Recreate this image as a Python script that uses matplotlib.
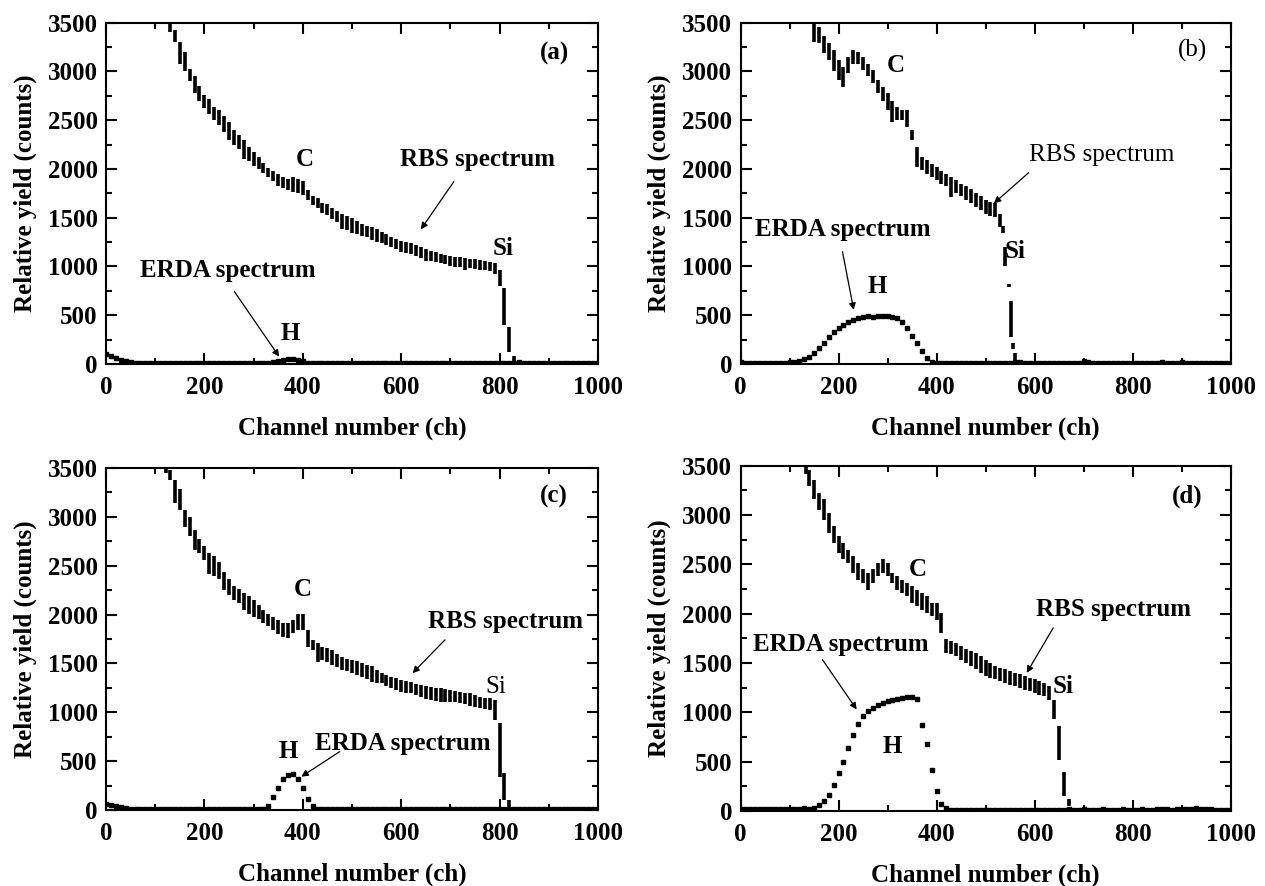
import numpy as np
import matplotlib

matplotlib.use("Agg")
import matplotlib.pyplot as plt
from matplotlib.ticker import MultipleLocator

plt.rcParams["font.family"] = ["Liberation Serif", "DejaVu Serif"]

# ---------------- data ----------------
ERDA_CH = np.arange(0, 1001, 10)

# panel (a)
A_RBS_CH = [130, 140, 150, 160, 170, 180, 190, 200, 210, 220, 230, 240, 250, 260, 270, 280, 290,
            300, 310, 320, 330, 340, 350, 360, 370, 380, 390, 400, 410, 420, 430, 440, 450, 460,
            470, 480, 490, 500, 510, 520, 530, 540, 550, 560, 570, 580, 590, 600, 610, 620, 630,
            640, 650, 660, 670, 680, 690, 700, 710, 720, 730, 740, 750, 760, 770, 780, 790, 800,
            810, 820, 830]
A_RBS_HI = [3500, 3420, 3300, 3200, 3020, 2950, 2850, 2760, 2720, 2640, 2600, 2540, 2480, 2400,
            2350, 2300, 2220, 2170, 2120, 2060, 2010, 1980, 1950, 1920, 1900, 1920, 1900, 1880,
            1780, 1720, 1700, 1650, 1640, 1600, 1570, 1540, 1520, 1500, 1470, 1440, 1420, 1400,
            1380, 1350, 1330, 1300, 1280, 1260, 1250, 1240, 1220, 1200, 1180, 1160, 1150, 1130,
            1120, 1110, 1100, 1100, 1090, 1080, 1080, 1070, 1060, 1050, 1040, 960, 780, 380, 80]
A_RBS_LO = [3400, 3300, 3080, 3000, 2900, 2780, 2700, 2620, 2560, 2500, 2450, 2380, 2300, 2250,
            2200, 2100, 2080, 2030, 2000, 1960, 1920, 1880, 1830, 1800, 1780, 1760, 1750, 1730,
            1680, 1630, 1600, 1550, 1530, 1490, 1460, 1380, 1370, 1340, 1330, 1310, 1300, 1270,
            1250, 1240, 1220, 1200, 1180, 1150, 1140, 1130, 1110, 1090, 1060, 1060, 1050, 1040,
            1030, 1000, 990, 990, 960, 980, 970, 960, 960, 950, 920, 800, 400, 120, 20]
A_ERDA = [100, 80, 60, 45, 30, 20, 15, 12, 10, 10,
          8, 8, 6, 8, 6, 6, 8, 6, 5, 6,
          5, 6, 5, 6, 5, 6, 5, 6, 8, 6,
          8, 8, 10, 15, 20, 30, 45, 55, 50, 45,
          30, 15, 10, 8, 6, 5, 6, 5, 6, 5,
          5, 6, 5, 6, 5, 6, 5, 6, 5, 6,
          5, 6, 5, 6, 5, 6, 5, 6, 5, 6,
          5, 6, 5, 6, 5, 6, 5, 6, 5, 6,
          8, 10, 8, 6, 20, 12, 8, 6, 5, 6,
          8, 6, 5, 10, 6, 5, 8, 6, 5, 6, 5]

# panel (b)
B_RBS_CH = [150, 160, 170, 180, 190, 200, 210, 220, 230, 240, 250, 260, 270, 280, 290, 300, 310,
            320, 330, 340, 350, 360, 370, 380, 390, 400, 410, 420, 430, 440, 450, 460, 470, 480,
            490, 500, 510, 520, 530, 535, 540, 547, 551, 556, 560]
B_RBS_HI = [3500, 3460, 3360, 3290, 3220, 3120, 3050, 3150, 3220, 3200, 3150, 3080, 3010, 2910,
            2840, 2775, 2700, 2640, 2600, 2600, 2400, 2230, 2120, 2090, 2050, 2020, 1980, 1950,
            1920, 1890, 1850, 1820, 1790, 1750, 1720, 1680, 1660, 1650, 1540, 1420, 1200, 820,
            650, 210, 110]
B_RBS_LO = [3300, 3290, 3190, 3120, 3000, 2910, 2840, 2980, 3080, 3080, 3010, 2950, 2880, 2775,
            2700, 2600, 2480, 2500, 2500, 2430, 2300, 2020, 1990, 1950, 1920, 1890, 1850, 1820,
            1710, 1750, 1720, 1680, 1650, 1610, 1580, 1540, 1520, 1510, 1400, 1340, 1000, 790,
            280, 150, 40]
B_ERDA = [20, 15, 15, 12, 15, 12, 10, 12, 15, 15,
          20, 25, 35, 50, 75, 110, 160, 220, 280, 330,
          370, 400, 430, 450, 470, 480, 490, 485, 490, 495,
          490, 485, 470, 430, 370, 290, 210, 130, 60, 25,
          12, 10, 8, 10, 8, 6, 8, 6, 8, 6,
          8, 6, 8, 10, 8, 6, 25, 20, 15, 12,
          10, 12, 15, 10, 8, 10, 12, 10, 8, 10,
          30, 20, 12, 10, 8, 10, 8, 12, 10, 8,
          10, 8, 12, 10, 8, 15, 25, 15, 10, 8,
          20, 10, 8, 10, 8, 6, 8, 10, 8, 6, 8]

# panel (c)
C_RBS_CH = [122, 130, 140, 150, 160, 170, 180, 190, 200, 210, 220, 230, 240, 250, 260, 270, 280,
            290, 300, 310, 320, 330, 340, 350, 360, 370, 380, 390, 400, 410, 420, 430, 440, 450,
            460, 470, 480, 490, 500, 510, 520, 530, 540, 550, 560, 570, 580, 590, 600, 610, 620,
            630, 640, 650, 660, 670, 680, 690, 700, 710, 720, 730, 740, 750, 760, 770, 780, 790,
            800, 810, 820]
C_RBS_HI = [3500, 3480, 3380, 3280, 3070, 3000, 2870, 2770, 2700, 2630, 2600, 2540, 2440, 2360,
            2290, 2260, 2220, 2190, 2150, 2100, 2050, 2010, 1980, 1940, 1910, 1910, 1940, 2010,
            2010, 1840, 1740, 1710, 1670, 1660, 1640, 1600, 1570, 1550, 1535, 1520, 1500, 1480,
            1470, 1430, 1400, 1380, 1365, 1350, 1330, 1320, 1310, 1290, 1280, 1270, 1260, 1250,
            1245, 1240, 1230, 1220, 1210, 1200, 1195, 1180, 1160, 1150, 1145, 1125, 890, 375, 100]
C_RBS_LO = [3450, 3380, 3140, 3070, 2900, 2800, 2660, 2630, 2560, 2420, 2390, 2360, 2250, 2200,
            2150, 2120, 2050, 2010, 1980, 1950, 1910, 1880, 1840, 1800, 1775, 1760, 1810, 1840,
            1840, 1670, 1640, 1510, 1535, 1510, 1485, 1460, 1435, 1420, 1400, 1380, 1365, 1340,
            1310, 1300, 1300, 1270, 1245, 1230, 1210, 1200, 1195, 1180, 1160, 1140, 1125, 1120,
            1110, 1110, 1110, 1100, 1090, 1080, 1060, 1050, 1040, 1030, 1025, 920, 340, 100, 30]
C_ERDA = [60, 50, 40, 30, 20, 15, 12, 10, 10, 8,
          8, 6, 8, 6, 5, 6, 5, 6, 5, 6,
          5, 6, 5, 6, 5, 6, 5, 6, 5, 6,
          8, 10, 15, 40, 130, 230, 320, 360, 370, 320,
          220, 110, 45, 15, 10, 8, 6, 5, 6, 5,
          6, 5, 6, 5, 6, 5, 6, 5, 6, 5,
          6, 5, 6, 5, 6, 5, 6, 5, 6, 5,
          6, 5, 6, 5, 6, 5, 6, 5, 6, 5,
          8, 6, 15, 10, 8, 6, 5, 6, 5, 6,
          5, 6, 8, 6, 5, 10, 8, 6, 5, 6, 5]

# panel (d)
D_RBS_CH = [134, 140, 150, 160, 170, 180, 190, 200, 210, 220, 230, 240, 250, 260, 270, 280, 290,
            300, 310, 320, 330, 340, 350, 360, 370, 380, 390, 400, 410, 420, 430, 440, 450, 460,
            470, 480, 490, 500, 510, 520, 530, 540, 550, 560, 570, 580, 590, 600, 610, 620, 630,
            640, 650, 660, 670]
D_RBS_HI = [3500, 3460, 3360, 3225, 3160, 3020, 2885, 2790, 2720, 2650, 2585, 2515, 2450, 2415,
            2450, 2515, 2550, 2515, 2415, 2380, 2345, 2310, 2280, 2245, 2210, 2175, 2110, 2110,
            2005, 1740, 1720, 1700, 1670, 1640, 1620, 1600, 1570, 1535, 1500, 1470, 1450, 1435,
            1420, 1400, 1385, 1370, 1350, 1335, 1320, 1300, 1265, 1130, 860, 390, 120]
D_RBS_LO = [3420, 3290, 3160, 3055, 2955, 2820, 2720, 2620, 2550, 2515, 2415, 2345, 2310, 2245,
            2310, 2380, 2415, 2380, 2310, 2245, 2210, 2175, 2110, 2075, 2040, 2005, 1975, 1940,
            1800, 1600, 1590, 1570, 1530, 1500, 1470, 1435, 1400, 1370, 1350, 1335, 1320, 1300,
            1280, 1265, 1250, 1230, 1215, 1200, 1180, 1165, 1130, 930, 520, 150, 50]
D_ERDA = [20, 18, 20, 15, 18, 20, 15, 18, 20, 15,
          18, 20, 18, 25, 20, 35, 60, 100, 160, 260,
          380, 500, 640, 770, 880, 960, 1010, 1040, 1070, 1090,
          1110, 1120, 1140, 1150, 1160, 1160, 1140, 870, 680, 420,
          200, 70, 25, 12, 10, 8, 10, 8, 6, 8,
          6, 8, 6, 8, 6, 8, 6, 8, 6, 8,
          8, 10, 12, 10, 8, 10, 12, 15, 12, 10,
          15, 12, 10, 12, 15, 12, 10, 12, 15, 12,
          10, 12, 15, 12, 10, 15, 20, 15, 12, 15,
          20, 15, 20, 25, 20, 15, 20, 12, 10, 8, 6]

PANELS = [
    ("a", A_RBS_CH, A_RBS_HI, A_RBS_LO, A_ERDA),
    ("b", B_RBS_CH, B_RBS_HI, B_RBS_LO, B_ERDA),
    ("c", C_RBS_CH, C_RBS_HI, C_RBS_LO, C_ERDA),
    ("d", D_RBS_CH, D_RBS_HI, D_RBS_LO, D_ERDA),
]

# annotation placement (text, x, y, weight), arrows (x0, y0, x1, y1)
LABELS = {
    "a": [("(a)", 911, 3185, "bold"), ("C", 404, 2100, "bold"), ("RBS spectrum", 755, 2100, "bold"),
          ("Si", 808, 1186, "bold"), ("ERDA spectrum", 247, 957, "bold"), ("H", 375, 314, "bold")],
    "b": [("(b)", 923, 3219, "normal"), ("C", 316, 3066, "bold"), ("RBS spectrum", 737, 2143, "normal"),
          ("Si", 560, 1152, "bold"), ("ERDA spectrum", 208, 1374, "bold"), ("H", 279, 793, "bold")],
    "c": [("(c)", 911, 3209, "bold"), ("C", 400, 2253, "bold"), ("RBS spectrum", 812, 1929, "bold"),
          ("Si", 792, 1263, "normal"), ("ERDA spectrum", 603, 683, "bold"), ("H", 370, 597, "bold")],
    "d": [("(d)", 911, 3190, "bold"), ("C", 361, 2447, "bold"), ("RBS spectrum", 762, 2042, "bold"),
          ("Si", 659, 1265, "bold"), ("ERDA spectrum", 204, 1687, "bold"), ("H", 310, 658, "bold")],
}
ARROWS = {
    "a": [(707, 1870, 640, 1380), (261, 742, 352, 75)],
    "b": [(588, 1962, 517, 1647), (208, 1152, 231, 554)],
    "c": [(689, 1741, 623, 1400), (475, 597, 397, 341)],
    "d": [(638, 1856, 584, 1400), (167, 1535, 237, 1029)],
}

AX_POS = {
    "a": [0.0838, 0.5892, 0.3889, 0.3852],
    "b": [0.5854, 0.5892, 0.3874, 0.3852],
    "c": [0.0838, 0.0858, 0.3889, 0.3860],
    "d": [0.5854, 0.0847, 0.3874, 0.3896],
}

FS = 18


def draw_panel(ax, key, ch, hi, lo, erda):
    # each channel bin shows a vertical cluster of counts between lo and hi
    ax.vlines(ch, lo, hi, color="black", lw=2.6, zorder=3)
    ax.plot(ERDA_CH, erda, "s", color="black", ms=3.0, zorder=3)

    ax.set_xlim(0, 1000)
    ax.set_ylim(0, 3500)
    ax.xaxis.set_major_locator(MultipleLocator(200))
    ax.xaxis.set_minor_locator(MultipleLocator(100))
    ax.yaxis.set_major_locator(MultipleLocator(500))
    ax.yaxis.set_minor_locator(MultipleLocator(250))
    ax.tick_params(which="both", direction="in", top=True, right=True, width=1.5)
    ax.tick_params(which="major", length=8)
    ax.tick_params(which="minor", length=4)
    ax.tick_params(axis="x", pad=9)
    ax.tick_params(axis="y", pad=6)
    for lab in ax.get_xticklabels() + ax.get_yticklabels():
        lab.set_fontsize(FS)
        lab.set_fontweight("bold")
    for sp in ax.spines.values():
        sp.set_linewidth(1.5)

    ax.set_xlabel("Channel number (ch)", fontsize=FS, fontweight="bold", labelpad=12)
    ax.set_ylabel("Relative yield (counts)", fontsize=FS, fontweight="bold", labelpad=8)

    for text, x, y, w in LABELS[key]:
        ax.text(x, y, text, fontsize=FS, fontweight=w, ha="center", va="center", zorder=5)
    for x0, y0, x1, y1 in ARROWS[key]:
        ax.annotate("", xy=(x1, y1), xytext=(x0, y0),
                    arrowprops=dict(arrowstyle="-|>", color="black", lw=0.9, mutation_scale=10,
                                    shrinkA=0, shrinkB=0))


def main() -> None:
    fig = plt.figure(figsize=(12.65, 8.86), dpi=100)
    for key, ch, hi, lo, erda in PANELS:
        ax = fig.add_axes(AX_POS[key])
        draw_panel(ax, key, ch, hi, lo, erda)
    fig.savefig("out.png", dpi=100)
    plt.close(fig)


if __name__ == "__main__":
    main()
